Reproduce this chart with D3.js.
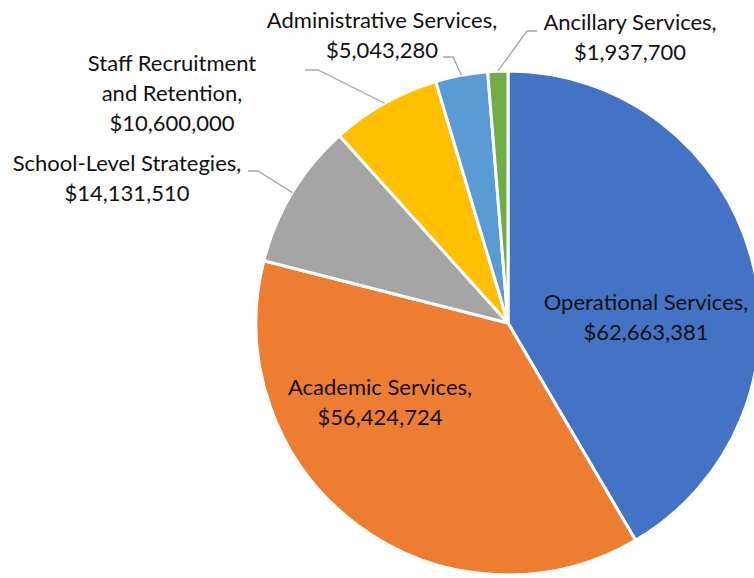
<!DOCTYPE html>
<html>
<head>
<meta charset="utf-8">
<script src="https://cdn.jsdelivr.net/npm/d3@7"></script>
<style>
  html, body { margin: 0; padding: 0; background: #fff; }
  svg { display: block; }
  text { font-family: Lato, "Open Sans", sans-serif; fill: #111; }
</style>
</head>
<body>
<svg id="chart" width="754" height="578"></svg>
<script>
// Budget categories, in slice order (clockwise from 12 o'clock)
const categories = [
  "Operational Services",
  "Academic Services",
  "School-Level Strategies",
  "Staff Recruitment and Retention",
  "Administrative Services",
  "Ancillary Services"
];
const amounts = [62663381, 56424724, 14131510, 10600000, 5043280, 1937700];
const colors = ["#4472C4", "#ED7D31", "#A5A5A5", "#FFC000", "#5B9BD5", "#70AD47"];

// Label text lines per slice
const labelLines = [
  ["Operational Services,"],
  ["Academic Services,"],
  ["School-Level Strategies,"],
  ["Staff Recruitment", "and Retention,"],
  ["Administrative Services,"],
  ["Ancillary Services,"]
];

// Label layout: anchor (centre of first line), and leader elbow/end points for outside labels
const labelLayout = [
  { x: 646, y: 310, inside: true },
  { x: 380, y: 395, inside: true },
  { x: 127, y: 171, elbow: [258, 171], end: [248, 171] },
  { x: 172, y: 71, elbow: [318, 70], end: [305, 70] },
  { x: 382, y: 28, elbow: [453, 57], end: [443, 57] },
  { x: 630, y: 30, elbow: [527, 31], end: [537, 31] }
];

const svg = d3.select("#chart");
const cx = 508, cy = 323, radius = 252;
const lineH = 30;
const fmt = d3.format("$,");

const pie = d3.pie().sort(null).value(d => d.value);
const data = categories.map((c, i) => ({ name: c, value: amounts[i], color: colors[i] }));
const arcs = pie(data);
const arc = d3.arc().innerRadius(0).outerRadius(radius);

const g = svg.append("g").attr("transform", `translate(${cx},${cy})`);

g.selectAll("path.slice")
  .data(arcs)
  .join("path")
  .attr("class", "slice")
  .attr("d", arc)
  .attr("fill", d => d.data.color)
  .attr("stroke", "#fff")
  .attr("stroke-width", 3)
  .attr("stroke-linejoin", "round");

// Leader lines from the slice rim to the outside labels
const rim = d3.arc().innerRadius(radius).outerRadius(radius);
arcs.forEach((a, i) => {
  const L = labelLayout[i];
  if (L.inside) return;
  const [sx, sy] = rim.centroid(a);
  const pts = [[sx + cx, sy + cy], L.elbow, L.end];
  svg.append("path")
    .attr("d", d3.line()(pts))
    .attr("fill", "none")
    .attr("stroke", "#A6A6A6")
    .attr("stroke-width", 1.3);
});

// Labels: category name lines followed by the dollar amount
arcs.forEach((a, i) => {
  const L = labelLayout[i];
  const lines = labelLines[i].concat([fmt(a.data.value)]);
  const t = svg.append("text")
    .attr("text-anchor", "middle")
    .attr("font-size", 22);
  lines.forEach((ln, k) => {
    t.append("tspan")
      .attr("x", L.x)
      .attr("y", L.y + k * lineH)
      .text(ln);
  });
});
</script>
</body>
</html>
